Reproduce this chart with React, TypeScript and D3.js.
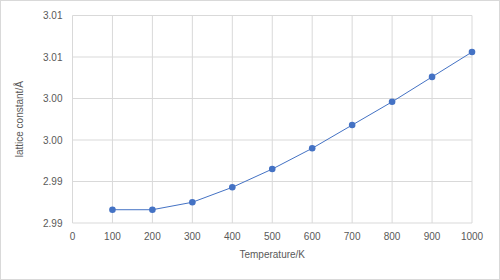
import React, { useEffect, useRef } from 'react';
import * as d3 from 'd3';

const temperatures = [100, 200, 300, 400, 500, 600, 700, 800, 900, 1000];
const latticeConstants = [2.9866, 2.9866, 2.9875, 2.9893, 2.9915, 2.994, 2.9968, 2.9996, 3.0026, 3.0056];
const xTicks = [0, 100, 200, 300, 400, 500, 600, 700, 800, 900, 1000];
const yTicks = [2.985, 2.99, 2.995, 3.0, 3.005, 3.01];
const yTickLabels = ['2.99', '2.99', '3.00', '3.00', '3.01', '3.01'];

const App = () => {
  const ref = useRef<SVGSVGElement>(null);

  useEffect(() => {
    const svg = d3.select(ref.current);
    svg.selectAll('*').remove();

    const width = 500;
    const height = 280;
    const margin = { top: 15.5, right: 28, bottom: 57, left: 72.5 };
    const font = '"Liberation Sans", Arial, sans-serif';
    const textColor = '#595959';
    const blue = '#4472C4';

    svg.attr('width', width).attr('height', height);

    svg.append('rect')
      .attr('x', 0.5).attr('y', 0.5)
      .attr('width', width - 1).attr('height', height - 1)
      .attr('fill', '#fff')
      .attr('stroke', '#d9d9d9');

    const innerWidth = width - margin.left - margin.right;
    const innerHeight = height - margin.top - margin.bottom;

    const x = d3.scaleLinear().domain([0, 1000]).range([0, innerWidth]);
    const y = d3.scaleLinear().domain([2.985, 3.01]).range([innerHeight, 0]);

    const chart = svg.append('g')
      .attr('transform', `translate(${margin.left},${margin.top})`);

    // gridlines
    chart.append('g')
      .selectAll('line')
      .data(yTicks)
      .enter()
      .append('line')
      .attr('x1', 0).attr('x2', innerWidth)
      .attr('y1', d => y(d)).attr('y2', d => y(d))
      .attr('stroke', '#d9d9d9');

    chart.append('g')
      .selectAll('line')
      .data(xTicks)
      .enter()
      .append('line')
      .attr('x1', d => x(d)).attr('x2', d => x(d))
      .attr('y1', 0).attr('y2', innerHeight)
      .attr('stroke', '#d9d9d9');

    // tick labels
    chart.append('g')
      .selectAll('text')
      .data(yTicks)
      .enter()
      .append('text')
      .attr('x', -10)
      .attr('y', d => y(d))
      .attr('dy', '0.35em')
      .attr('text-anchor', 'end')
      .attr('font-family', font)
      .attr('font-size', '10px')
      .attr('fill', textColor)
      .text((d, i) => yTickLabels[i]);

    chart.append('g')
      .selectAll('text')
      .data(xTicks)
      .enter()
      .append('text')
      .attr('x', d => x(d))
      .attr('y', innerHeight + 13)
      .attr('dy', '0.35em')
      .attr('text-anchor', 'middle')
      .attr('font-family', font)
      .attr('font-size', '10px')
      .attr('fill', textColor)
      .text(d => d);

    const points = temperatures.map((t, i) => [t, latticeConstants[i]] as [number, number]);

    const line = d3.line<[number, number]>()
      .x(d => x(d[0]))
      .y(d => y(d[1]));

    chart.append('path')
      .datum(points)
      .attr('d', line)
      .attr('fill', 'none')
      .attr('stroke', blue)
      .attr('stroke-width', 1);

    chart.selectAll('circle')
      .data(points)
      .enter()
      .append('circle')
      .attr('cx', d => x(d[0]))
      .attr('cy', d => y(d[1]))
      .attr('r', 3.3)
      .attr('fill', blue);

    // axis titles
    svg.append('text')
      .attr('x', margin.left + innerWidth / 2)
      .attr('y', 258)
      .attr('text-anchor', 'middle')
      .attr('font-family', font)
      .attr('font-size', '10px')
      .attr('fill', textColor)
      .text('Temperature/K');

    svg.append('text')
      .attr('transform', `translate(23,${margin.top + innerHeight / 2}) rotate(-90)`)
      .attr('text-anchor', 'middle')
      .attr('font-family', font)
      .attr('font-size', '10px')
      .attr('fill', textColor)
      .text('lattice constant/Å');
  }, []);

  return <svg ref={ref} style={{ position: 'absolute', left: 0, top: 0 }}></svg>;
};

export default App;
